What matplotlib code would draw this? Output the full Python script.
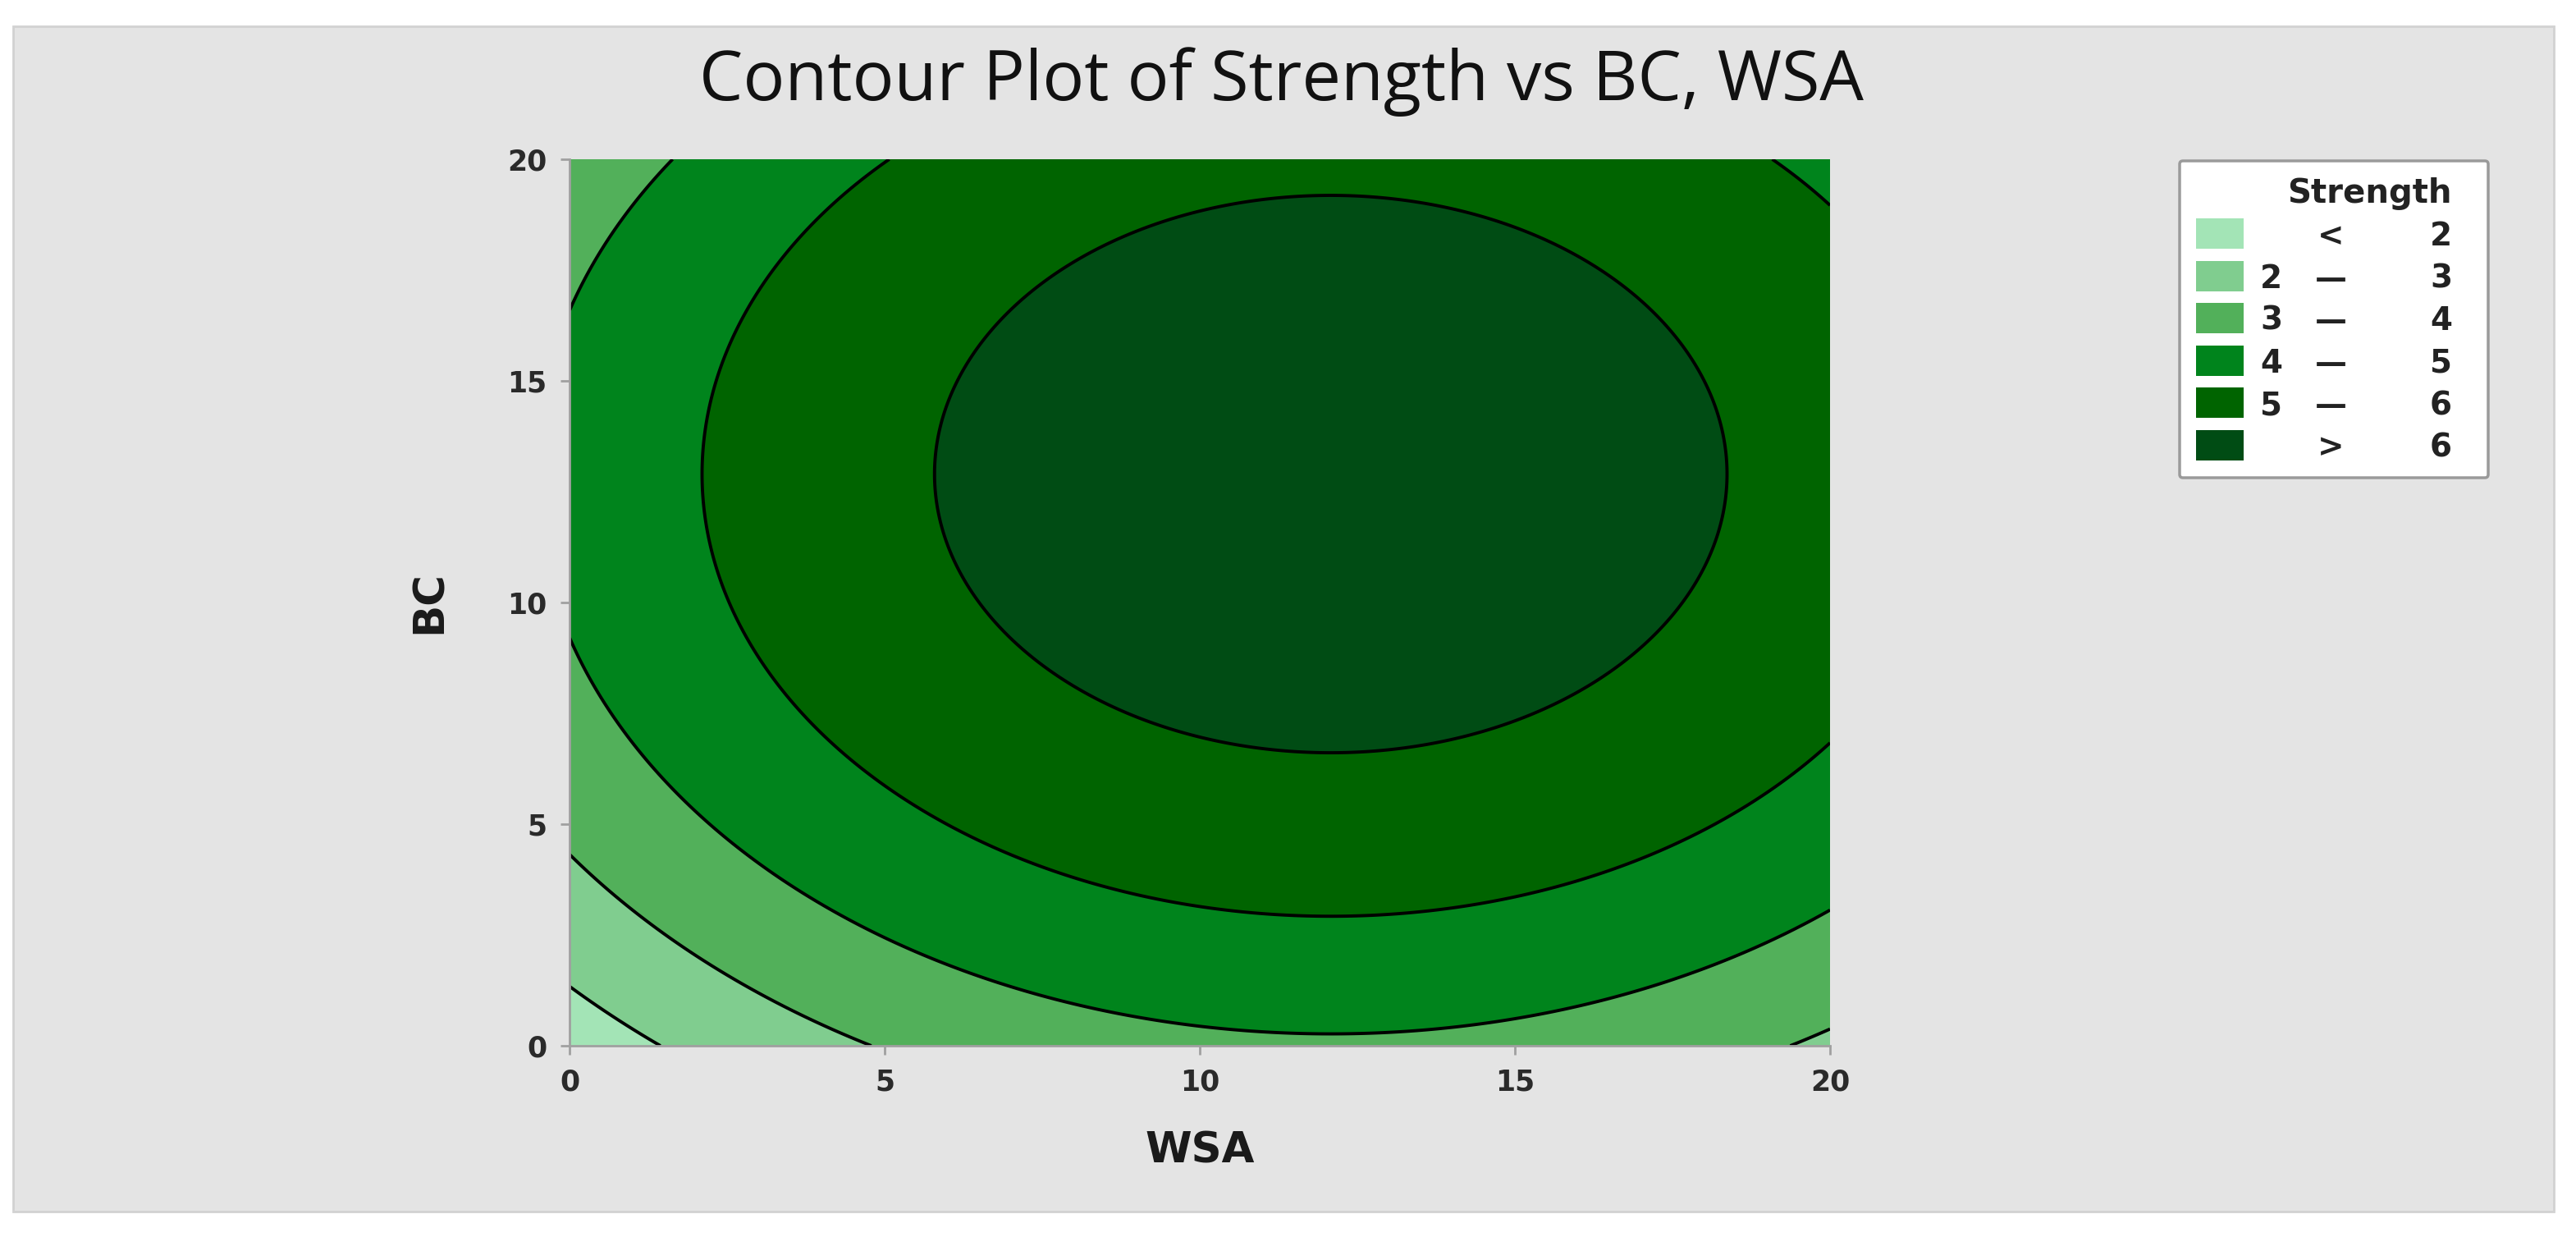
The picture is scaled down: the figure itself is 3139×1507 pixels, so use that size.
import matplotlib
matplotlib.use("Agg")
import matplotlib.pyplot as plt
import numpy as np
from matplotlib.patches import Rectangle, FancyBboxPatch

# fitted response surface: Strength = b0 + b1*WSA + b2*BC + b11*WSA^2 + b22*BC^2 + b12*WSA*BC
b0 = 1.454
b_wsa = 0.4027
b_bc = 0.430
b_wsa2 = -0.01667
b_bc2 = -0.01667
b_wsa_bc = 0.0

wsa_range = [0, 20]
bc_range = [0, 20]
ticks = [0, 5, 10, 15, 20]

levels = [2, 3, 4, 5, 6]
band_colors = ["#a3e4b6", "#80cd8f", "#52b05a", "#00841c", "#006400", "#004c14"]

plt.rcParams["font.family"] = ["DejaVu Sans"]

fig = plt.figure(figsize=(31.39, 15.07), dpi=100)
fig.patch.set_facecolor("white")
fig.patches.append(Rectangle((16 / 3139, 1 - 1476 / 1507), 3096 / 3139, 1444 / 1507,
                             transform=fig.transFigure, facecolor="#e4e4e4",
                             edgecolor="#d2d2d2", linewidth=2, zorder=-10))

ax = fig.add_axes([694 / 3139, 1 - 1274 / 1507, 1536 / 3139, 1080 / 1507])
wsa = np.linspace(wsa_range[0], wsa_range[1], 401)
bc = np.linspace(bc_range[0], bc_range[1], 401)
W, B = np.meshgrid(wsa, bc)
strength = b0 + b_wsa * W + b_bc * B + b_wsa2 * W ** 2 + b_bc2 * B ** 2 + b_wsa_bc * W * B

bounds = [-1e9] + levels + [1e9]
ax.contourf(W, B, strength, levels=bounds, colors=band_colors)
ax.contour(W, B, strength, levels=levels, colors="black", linewidths=2.8)

ax.set_xlim(wsa_range)
ax.set_ylim(bc_range)
ax.set_xticks(ticks)
ax.set_yticks(ticks)
for side in ["top", "right"]:
    ax.spines[side].set_visible(False)
for side in ["left", "bottom"]:
    ax.spines[side].set_color("#a0a0a0")
    ax.spines[side].set_linewidth(2)
ax.tick_params(direction="out", length=8, width=2, color="#a0a0a0",
               labelsize=25, labelcolor="#2a2a2a", pad=12)
for lab in ax.get_xticklabels() + ax.get_yticklabels():
    lab.set_fontweight("bold")

ax.set_xlabel("WSA", fontsize=37, fontweight="bold", color="#1a1a1a", labelpad=30)
ax.set_ylabel("BC", fontsize=37, fontweight="bold", color="#1a1a1a", labelpad=50)
fig.text(1562 / 3139, 1 - 100 / 1507, "Contour Plot of Strength vs BC, WSA",
         ha="center", va="center", fontsize=61, color="#111111",
         family=["Open Sans", "DejaVu Sans"])

# legend box
lax = fig.add_axes([2654 / 3139, 1 - 584 / 1507, 380 / 3139, 390 / 1507])
lax.set_xlim(0, 380)
lax.set_ylim(390, 0)
lax.axis("off")
lax.add_patch(FancyBboxPatch((2, 2), 376, 386, boxstyle="round,pad=0,rounding_size=4",
                             facecolor="white", edgecolor="#9a9a9a", linewidth=2.5))
lax.text(334, 42, "Strength", ha="right", va="center", fontsize=29,
         fontweight="bold", color="#222222")
labels = [("", "<", levels[0])]
for lo, hi in zip(levels[:-1], levels[1:]):
    labels.append((lo, "\u2014", hi))
labels.append(("", ">", levels[-1]))
for i, (col, (lo, mid, hi)) in enumerate(zip(band_colors, labels)):
    y = 90 + i * 51.5
    lax.add_patch(Rectangle((22, y - 18), 58, 37, facecolor=col, edgecolor="none"))
    lax.text(100, y + 4, str(lo), ha="left", va="center", fontsize=28,
             fontweight="bold", color="#222222")
    lax.text(186, y + 4, mid, ha="center", va="center", fontsize=28,
             fontweight="bold", color="#222222")
    lax.text(334, y + 4, str(hi), ha="right", va="center", fontsize=28,
             fontweight="bold", color="#222222")

fig.savefig("out.png", dpi=100)
